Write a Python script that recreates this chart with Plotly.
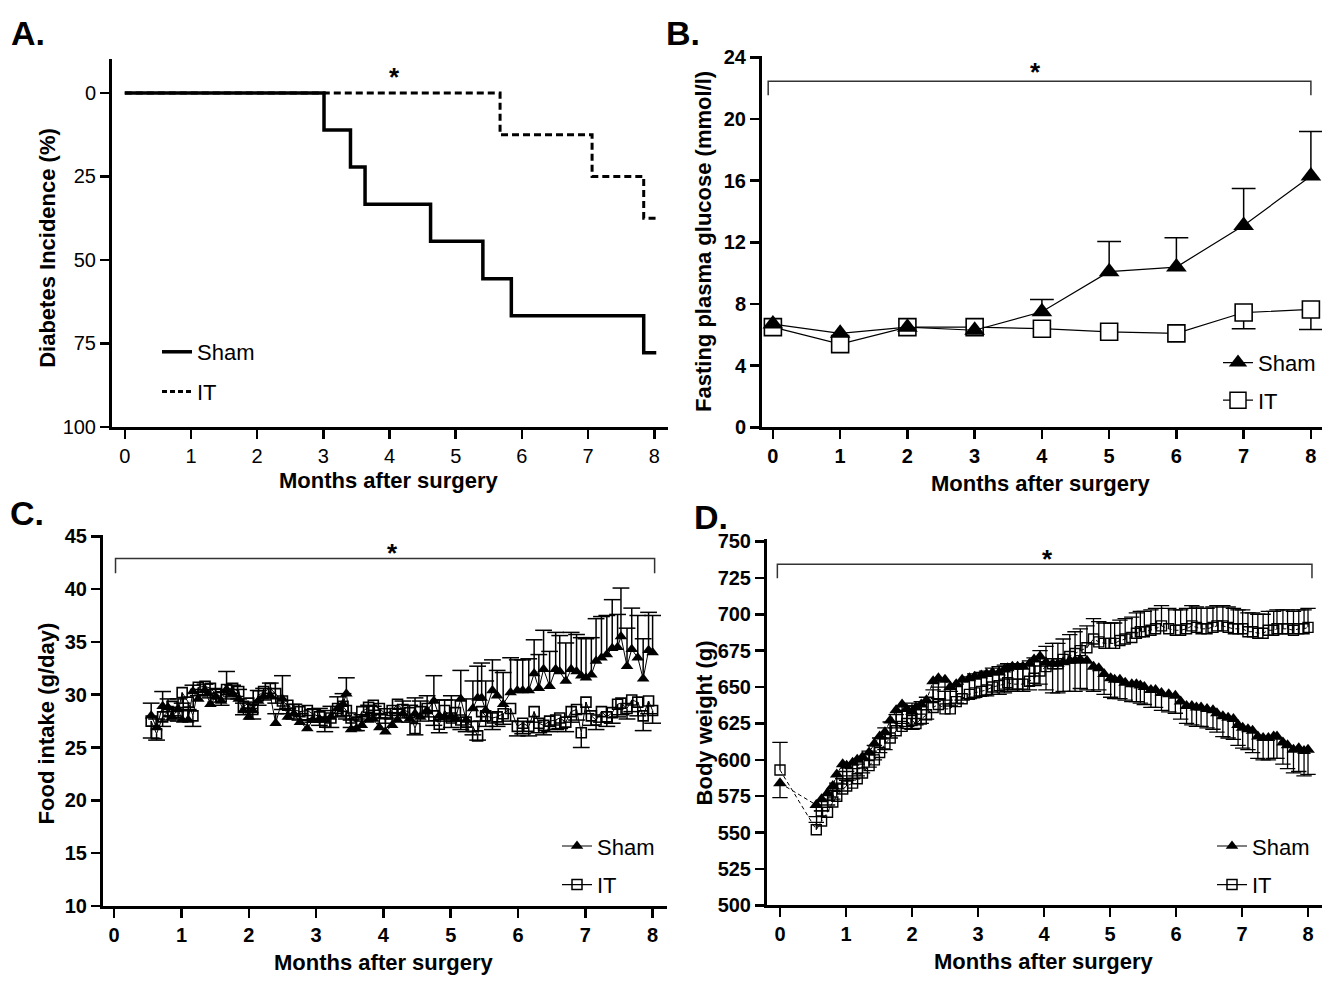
import plotly.graph_objects as go

W, H = 1332, 982
FONT = "Liberation Sans, Arial, Helvetica, sans-serif"


def px(x):
    return x / W


def py(y):
    return 1 - y / H


# ---------------- Panel A: diabetes incidence (step curves) ----------------
A_sham_months = [0, 3.01, 3.41, 3.63, 4.62, 5.41, 5.84, 7.84, 8.03]
A_sham_pct = [0, 11.1, 22.2, 33.3, 44.4, 55.6, 66.7, 77.8, 77.8]
A_it_months = [0, 5.67, 7.06, 7.84, 8.03]
A_it_pct = [0, 12.5, 25.0, 37.5, 37.5]

# ---------------- Panel B: fasting plasma glucose ----------------
B_months = [0, 1, 2, 3, 4, 5, 6, 7, 8]
B_sham = [6.7, 6.1, 6.5, 6.3, 7.5, 10.1, 10.4, 13.1, 16.3]
B_sham_err = [0, 0, 0, 0, 0.8, 1.95, 1.9, 2.4, 2.9]
B_it = [6.5, 5.4, 6.5, 6.5, 6.4, 6.2, 6.1, 7.45, 7.65]
B_it_err = [0, 0, 0, 0, 0, 0, 0, 1.05, 1.3]

# ---------------- Panels C & D: shared measurement times (months) ----------------
CD_months = [
    0.55, 0.63, 0.72, 0.80, 0.86, 0.95, 1.01, 1.10, 1.17, 1.25,
    1.35, 1.43, 1.51, 1.59, 1.67, 1.76, 1.85, 1.92, 2.00, 2.06,
    2.14, 2.22, 2.32, 2.40, 2.50, 2.58, 2.67, 2.76, 2.87, 2.95,
    3.05, 3.13, 3.22, 3.32, 3.40, 3.45, 3.52, 3.60, 3.68, 3.78,
    3.85, 3.94, 4.03, 4.13, 4.21, 4.29, 4.39, 4.47, 4.55, 4.65,
    4.75, 4.83, 4.91, 5.01, 5.07, 5.15, 5.23, 5.33, 5.40, 5.46,
    5.52, 5.62, 5.69, 5.78, 5.89, 5.99, 6.07, 6.16, 6.24, 6.31,
    6.38, 6.47, 6.56, 6.62, 6.71, 6.79, 6.87, 6.94, 7.01, 7.09,
    7.16, 7.24, 7.32, 7.40, 7.48, 7.53, 7.62, 7.69, 7.78, 7.86,
    7.94, 8.00,
]

# Panel C: food intake (g/day)
C_sham = [
    28.0, 26.9, 28.9, 28.8, 27.9, 28.6, 27.6, 27.6, 30.3, 29.6,
    30.4, 29.1, 29.8, 29.4, 30.5, 30.1, 29.6, 28.5, 27.9, 28.5,
    29.4, 29.8, 29.9, 27.3, 29.6, 27.9, 28.2, 27.4, 26.8, 27.6,
    27.7, 27.6, 27.9, 28.7, 29.1, 30.1, 26.7, 26.8, 27.1, 27.6,
    27.7, 26.9, 26.5, 27.1, 27.6, 28.2, 27.7, 28.2, 27.9, 28.5,
    29.4, 28.0, 27.9, 27.9, 27.7, 29.6, 27.6, 28.7, 29.7, 29.7,
    28.5, 30.4, 29.9, 29.1, 30.2, 30.4, 30.4, 30.4, 32.0, 30.6,
    32.4, 30.8, 32.4, 32.2, 31.3, 32.4, 32.2, 31.8, 31.6, 31.9,
    33.2, 33.5, 33.8, 34.4, 34.5, 35.5, 32.7, 34.3, 33.5, 31.5,
    34.2, 34.0,
]
C_sham_err = [
    1.2, 0.8, 1.4, 0.8, 0.9, 1.0, 0.9, 1.0, 0.6, 0.9,
    0.6, 0.8, 0.7, 0.8, 1.7, 0.8, 0.9, 0.7, 0.8, 0.8,
    1.0, 0.8, 1.2, 0.9, 2.2, 0.8, 0.9, 0.8, 0.8, 1.0,
    1.0, 0.9, 1.0, 1.1, 1.0, 1.5, 0.9, 0.9, 1.0, 1.4,
    1.2, 1.2, 1.3, 1.2, 1.1, 1.2, 1.3, 1.5, 1.5, 1.4,
    2.4, 1.5, 1.6, 2.0, 1.8, 2.7, 2.0, 2.6, 3.0, 3.3,
    2.8, 2.9, 2.4, 3.0, 3.3, 2.9, 2.9, 3.0, 3.2, 3.2,
    3.7, 3.3, 3.5, 3.4, 3.6, 3.5, 3.5, 3.6, 3.7, 3.5,
    4.0, 3.9, 3.7, 4.6, 3.1, 4.6, 3.6, 3.9, 4.0, 3.8,
    3.6, 3.5,
]
C_it = [
    27.5, 26.3, 27.9, 28.4, 28.9, 28.3, 30.2, 29.3, 28.0, 30.7,
    30.8, 30.6, 30.1, 29.8, 30.5, 30.6, 30.3, 28.9, 29.2, 28.6,
    29.9, 30.3, 30.6, 30.1, 29.4, 29.0, 28.6, 28.4, 28.5, 28.2,
    27.9, 27.4, 27.8, 28.7, 28.9, 28.5, 27.8, 27.4, 28.4, 28.8,
    29.0, 28.7, 28.2, 28.5, 29.1, 28.6, 28.3, 26.8, 28.4, 28.7,
    28.0, 27.2, 28.5, 27.8, 28.3, 27.6, 27.4, 27.0, 26.1, 28.4,
    28.0, 27.8, 27.9, 28.2, 28.7, 27.0, 27.3, 27.0, 28.4, 27.3,
    27.1, 27.5, 27.6, 27.8, 27.4, 28.4, 28.6, 26.4, 29.3, 28.0,
    27.6, 28.4, 27.9, 28.3, 29.1, 29.2, 28.7, 29.5, 29.3, 28.0,
    29.4, 28.5,
]
C_it_err = [
    1.6, 0.6, 0.9, 0.8, 0.9, 0.8, 1.0, 0.8, 1.0, 0.8,
    0.8, 0.9, 0.8, 0.8, 0.9, 0.8, 0.7, 0.8, 0.8, 0.9,
    0.9, 0.8, 0.9, 0.9, 0.8, 0.8, 0.9, 0.8, 0.9, 0.8,
    0.8, 0.9, 0.9, 0.8, 0.9, 0.8, 0.9, 0.8, 0.9, 0.8,
    0.8, 0.9, 0.9, 0.8, 0.9, 0.8, 0.9, 0.6, 0.9, 0.8,
    0.9, 0.8, 1.0, 0.9, 0.8, 0.9, 0.9, 0.8, 0.4, 0.9,
    1.0, 1.1, 0.9, 1.0, 1.2, 0.9, 1.0, 0.9, 1.0, 0.9,
    0.9, 1.0, 0.9, 1.0, 0.9, 1.0, 1.0, 1.4, 1.1, 0.9,
    0.9, 1.0, 0.9, 1.0, 1.2, 1.1, 1.0, 1.1, 1.3, 1.4,
    1.2, 1.2,
]

# Panel D: body weight (g); baseline at month 0 plus the shared schedule
D_baseline_month = [0]
D_sham0, D_sham0_err = [584], [10]
D_it0, D_it0_err = [593], [19]
D_sham = [
    569, 573, 577, 582, 590, 597, 596, 598, 600, 602,
    605, 611, 616, 619, 627, 634, 638, 635, 633, 636,
    638, 641, 654, 656, 655, 650, 652, 655, 656, 657,
    658, 659, 660, 660, 662, 663, 664, 664, 664, 666,
    669, 671, 667, 666, 666, 667, 668, 668, 669, 668,
    664, 663, 659, 656, 655, 655, 653, 652, 652, 651,
    650, 648, 648, 646, 645, 644, 640, 637, 637, 636,
    636, 635, 634, 632, 630, 629, 628, 624, 622, 621,
    620, 616, 615, 615, 616, 616, 612, 610, 607, 608,
    606, 607,
]
D_sham_err = [
    8, 8, 8, 9, 10, 10, 10, 11, 11, 11,
    10, 11, 11, 12, 12, 12, 13, 12, 12, 12,
    13, 13, 14, 14, 14, 13, 13, 14, 14, 14,
    14, 15, 15, 15, 16, 16, 16, 17, 17, 18,
    18, 19, 19, 20, 20, 20, 21, 21, 20, 20,
    17, 15, 14, 13, 13, 13, 12, 12, 12, 12,
    12, 12, 12, 12, 12, 12, 12, 12, 13, 13,
    13, 13, 13, 13, 14, 14, 14, 14, 14, 14,
    15, 15, 15, 15, 15, 15, 15, 16, 16, 16,
    17, 17,
]
D_it = [
    552, 558, 564, 571, 575, 580, 582, 584, 587, 591,
    596, 600, 605, 611, 615, 620, 623, 625, 627, 625,
    628, 631, 636, 638, 635, 635, 640, 642, 645, 646,
    647, 648, 650, 651, 652, 653, 652, 652, 652, 654,
    656, 661, 664, 666, 666, 669, 671, 673, 675, 677,
    683, 681, 680, 680, 680, 682, 683, 684, 687, 688,
    688, 689, 690, 692, 690, 689, 689, 690, 692, 691,
    690, 690, 691, 692, 692, 691, 690, 690, 690, 688,
    688, 687, 687, 689, 689, 690, 690, 690, 689, 690,
    690, 691,
]
D_it_err = [
    5, 7, 8, 8, 9, 9, 10, 10, 10, 10,
    10, 10, 10, 11, 11, 11, 11, 12, 12, 12,
    12, 12, 12, 12, 12, 12, 12, 12, 12, 13,
    13, 13, 13, 13, 13, 13, 13, 13, 14, 14,
    14, 14, 14, 14, 14, 14, 15, 15, 15, 15,
    14, 14, 14, 14, 14, 14, 14, 14, 14, 14,
    14, 14, 14, 14, 14, 14, 14, 14, 14, 14,
    14, 14, 14, 14, 14, 14, 14, 13, 13, 13,
    13, 13, 13, 13, 13, 13, 13, 13, 13, 13,
    13, 13,
]

X_TICKS = [0, 1, 2, 3, 4, 5, 6, 7, 8]
A_Y_TICKS = [0, 25, 50, 75, 100]
B_Y_TICKS = [0, 4, 8, 12, 16, 20, 24]
C_Y_TICKS = [10, 15, 20, 25, 30, 35, 40, 45]
D_Y_TICKS = [500, 525, 550, 575, 600, 625, 650, 675, 700, 725, 750]

fig = go.Figure()


def n_common(*seqs):
    return min(len(s) for s in seqs)


def add_errorbars(x, y, e, up, xa, ya, cap, thick):
    n = n_common(x, y, e)
    sx, sy, cx, cy = [], [], [], []
    for i in range(n):
        if e[i] <= 0:
            continue
        yend = y[i] + e[i] if up else y[i] - e[i]
        sx += [x[i], x[i], None]
        sy += [y[i], yend, None]
        cx.append(x[i])
        cy.append(yend)
    fig.add_trace(go.Scatter(x=sx, y=sy, mode="lines", xaxis=xa, yaxis=ya,
                             line=dict(color="black", width=thick),
                             showlegend=False, hoverinfo="skip"))
    fig.add_trace(go.Scatter(x=cx, y=cy, mode="markers", xaxis=xa, yaxis=ya,
                             marker=dict(symbol="line-ew", size=cap, color="black",
                                         line=dict(color="black", width=thick)),
                             showlegend=False, hoverinfo="skip"))


def legend_key(name, legend, rank, mode, line, marker=None):
    kw = dict(x=[None], y=[None], name=name, mode=mode, line=line,
              legend=legend, legendrank=rank, legendgroup=legend + name,
              hoverinfo="skip")
    if marker is not None:
        kw["marker"] = marker
    fig.add_trace(go.Scatter(**kw))


# ---- Panel A traces ----
fig.add_trace(go.Scatter(x=A_it_months, y=A_it_pct, mode="lines", line_shape="hv",
                         line=dict(color="black", width=3, dash="7px,4px"),
                         xaxis="x", yaxis="y", showlegend=False, hoverinfo="skip"))
fig.add_trace(go.Scatter(x=A_sham_months, y=A_sham_pct, mode="lines", line_shape="hv",
                         line=dict(color="black", width=3.5),
                         xaxis="x", yaxis="y", showlegend=False, hoverinfo="skip"))
legend_key("Sham", "legend", 1, "lines", dict(color="black", width=3.5))
legend_key("IT", "legend", 2, "lines", dict(color="black", width=3, dash="5px,3px"))

# ---- Panel B traces ----
add_errorbars(B_months, B_it, B_it_err, False, "x2", "y2", 17, 1.5)
fig.add_trace(go.Scatter(x=B_months, y=B_it, mode="lines+markers", xaxis="x2", yaxis="y2",
                         line=dict(color="black", width=1.2),
                         marker=dict(symbol="square", size=17, color="white",
                                     line=dict(color="black", width=1.6)),
                         showlegend=False, hoverinfo="skip"))
add_errorbars(B_months, B_sham, B_sham_err, True, "x2", "y2", 17, 1.5)
fig.add_trace(go.Scatter(x=B_months, y=B_sham, mode="lines+markers", xaxis="x2", yaxis="y2",
                         line=dict(color="black", width=1.2),
                         marker=dict(symbol="triangle-up", size=18, color="black"),
                         showlegend=False, hoverinfo="skip"))
legend_key("Sham", "legend2", 1, "lines+markers", dict(color="black", width=1.2),
           dict(symbol="triangle-up", size=16, color="black"))
legend_key("IT", "legend2", 2, "lines+markers", dict(color="black", width=1.2),
           dict(symbol="square", size=16, color="white", line=dict(color="black", width=1.5)))

# ---- Panel C traces ----
add_errorbars(CD_months, C_it, C_it_err, False, "x3", "y3", 12, 1.5)
fig.add_trace(go.Scatter(x=CD_months, y=C_it, mode="lines+markers", xaxis="x3", yaxis="y3",
                         line=dict(color="black", width=1),
                         marker=dict(symbol="square-open", size=10, color="black",
                                     line=dict(color="black", width=1.6)),
                         showlegend=False, hoverinfo="skip"))
add_errorbars(CD_months, C_sham, C_sham_err, True, "x3", "y3", 12, 1.5)
fig.add_trace(go.Scatter(x=CD_months, y=C_sham, mode="lines+markers", xaxis="x3", yaxis="y3",
                         line=dict(color="black", width=1),
                         marker=dict(symbol="triangle-up", size=11, color="black"),
                         showlegend=False, hoverinfo="skip"))
legend_key("Sham", "legend3", 1, "lines+markers", dict(color="black", width=1.2),
           dict(symbol="triangle-up", size=11, color="black"))
legend_key("IT", "legend3", 2, "lines+markers", dict(color="black", width=1.2),
           dict(symbol="square-open", size=10, color="black", line=dict(color="black", width=1.5)))

# ---- Panel D traces ----
D_x = D_baseline_month + CD_months
D_sham_all = D_sham0 + D_sham
D_sham_err_all = D_sham0_err + D_sham_err
D_it_all = D_it0 + D_it
D_it_err_all = D_it0_err + D_it_err
add_errorbars(D_x, D_it_all, D_it_err_all, True, "x4", "y4", 11, 1.3)
fig.add_trace(go.Scatter(x=D_x, y=D_it_all, mode="lines+markers", xaxis="x4", yaxis="y4",
                         line=dict(color="black", width=1, dash="4px,3px"),
                         marker=dict(symbol="square-open", size=10, color="black",
                                     line=dict(color="black", width=1.4)),
                         showlegend=False, hoverinfo="skip"))
add_errorbars(D_x, D_sham_all, D_sham_err_all, False, "x4", "y4", 11, 1.3)
fig.add_trace(go.Scatter(x=D_x, y=D_sham_all, mode="lines+markers", xaxis="x4", yaxis="y4",
                         line=dict(color="black", width=1, dash="4px,3px"),
                         marker=dict(symbol="triangle-up", size=12, color="black"),
                         showlegend=False, hoverinfo="skip"))
legend_key("Sham", "legend4", 1, "lines+markers", dict(color="black", width=1.2),
           dict(symbol="triangle-up", size=11, color="black"))
legend_key("IT", "legend4", 2, "lines+markers", dict(color="black", width=1.2),
           dict(symbol="square-open", size=10, color="black", line=dict(color="black", width=1.5)))


# ---------------- axes ----------------
def axis(domain, rng, ticks, anchor, bold, **extra):
    d = dict(domain=domain, range=rng, tickmode="array", tickvals=ticks,
             showline=True, linewidth=3, linecolor="black", ticks="outside",
             ticklen=9, tickwidth=2.5, tickcolor="black", showgrid=False,
             zeroline=False, anchor=anchor, fixedrange=True,
             tickfont=dict(family=FONT, size=20, color="black",
                           weight="bold" if bold else "normal"))
    d.update(extra)
    return d


layout = dict(
    width=W, height=H, margin=dict(l=0, r=0, t=0, b=0),
    paper_bgcolor="white", plot_bgcolor="white",
    font=dict(family=FONT, color="black"),
    xaxis=axis([px(112), px(668)], [-0.193, 8.207], X_TICKS, "y", False),
    yaxis=axis([py(426), py(50)], [100, -10.2], A_Y_TICKS, "x", False),
    xaxis2=axis([px(762), px(1322)], [-0.162, 8.165], X_TICKS, "y2", True),
    yaxis2=axis([py(426.5), py(47.5)], [0, 24.06], B_Y_TICKS, "x2", True),
    xaxis3=axis([px(103), px(667)], [-0.166, 8.214], X_TICKS, "y3", True),
    yaxis3=axis([py(915.5), py(536.5)], [10, 45.12], C_Y_TICKS, "x3", True),
    xaxis4=axis([px(767), px(1322)], [-0.197, 8.212], X_TICKS, "y4", True),
    yaxis4=axis([py(915), py(541)], [500, 751.4], D_Y_TICKS, "x4", True),
)

legend_common = dict(xanchor="left", yanchor="top", bgcolor="rgba(0,0,0,0)",
                     borderwidth=0, traceorder="grouped",
                     font=dict(family=FONT, size=22, color="black"))
layout["legend"] = dict(x=px(157), y=py(328), tracegroupgap=8, **legend_common)
layout["legend2"] = dict(x=px(1218), y=py(339), tracegroupgap=6, **legend_common)
layout["legend3"] = dict(x=px(557), y=py(833), tracegroupgap=7, **legend_common)
layout["legend4"] = dict(x=px(1212), y=py(833), tracegroupgap=7, **legend_common)

fig.update_layout(**layout)

# ---------------- significance brackets ----------------
bracket_style = dict(color="#333333", width=1.5)
fig.add_shape(type="path", xref="x2", yref="y2",
              path="M -0.07,21.55 L -0.07,22.45 L 8.0,22.45 L 8.0,21.55", line=bracket_style)
fig.add_shape(type="path", xref="x3", yref="y3",
              path="M 0.02,41.5 L 0.02,42.9 L 8.03,42.9 L 8.03,41.5", line=bracket_style)
fig.add_shape(type="path", xref="x4", yref="y4",
              path="M -0.04,724.8 L -0.04,734.3 L 8.06,734.3 L 8.06,724.8", line=bracket_style)

# ---------------- text ----------------
ann = []


def text(x, y, s, size, bold=True, angle=0, xref="paper", yref="paper", xanchor="center"):
    ann.append(dict(x=x, y=y, xref=xref, yref=yref, text=s, showarrow=False,
                    textangle=angle, xanchor=xanchor, yanchor="middle",
                    font=dict(family=FONT, size=size, color="black",
                              weight="bold" if bold else "normal")))


# panel letters
text(px(28), py(23), "A.", 34)
text(px(683), py(23), "B.", 34)
text(px(27), py(514), "C.", 34)
text(px(711), py(518), "D.", 34)

# asterisks
text(4.08, -4.9, "*", 26, xref="x", yref="y")
text(3.91, 23.05, "*", 26, xref="x2", yref="y2")
text(4.13, 43.4, "*", 26, xref="x3", yref="y3")
text(4.05, 738.0, "*", 26, xref="x4", yref="y4")

# axis titles
text(px(389), py(481), "Months after surgery", 22)
text(px(1041), py(484), "Months after surgery", 22)
text(px(384), py(973), "Months after surgery", 22)
text(px(1044), py(972), "Months after surgery", 22)
text(px(48), py(243), "Diabetes Incidence (%)", 22, angle=-90)
text(px(704), py(237), "Fasting plasma glucose (mmol/l)", 22, angle=-90)
text(px(46), py(729), "Food intake (g/day)", 22, angle=-90)
text(px(704), py(729), "Body weight (g)", 22, angle=-90)

fig.update_layout(annotations=ann)

fig.write_html("out.html", config={"displayModeBar": False, "staticPlot": True},
               post_script="document.body.style.margin='0px';document.body.style.padding='0px';document.body.style.overflow='hidden';")
